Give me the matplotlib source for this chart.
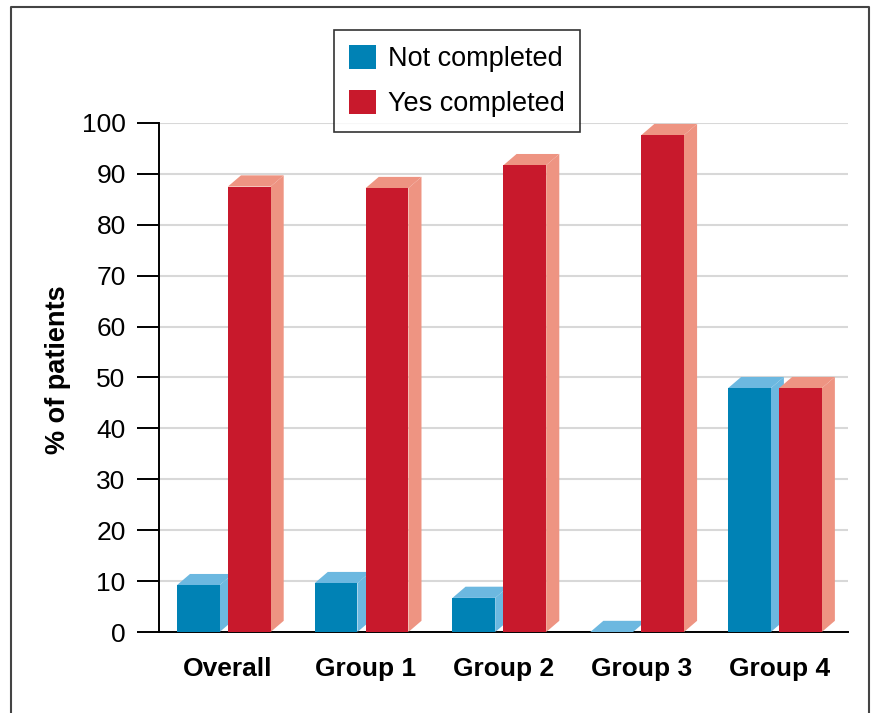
import numpy as np
import matplotlib.pyplot as plt
from matplotlib.patches import Polygon, Patch
from matplotlib.lines import Line2D

plt.rcParams['font.family'] = ['Liberation Sans', 'DejaVu Sans']

groups = ['Overall', 'Group 1', 'Group 2', 'Group 3', 'Group 4']
not_completed = [9.2, 9.6, 6.7, 0.0, 47.9]
yes_completed = [87.5, 87.2, 91.7, 97.6, 47.9]

blue_front, blue_light = '#0082b5', '#6cb8e0'
red_front, red_light = '#c8192c', '#ee9482'

fig = plt.figure(figsize=(8.76, 7.13), dpi=100)
ax = fig.add_axes([0.1815, 0.1136, 0.7865, 0.714])

width = 0.31
depth_x = 0.095   # sideways offset of the fake 3D faces
depth_y = 2.2     # upward offset of the fake 3D faces

x = np.arange(len(groups))
offsets = [(-0.215, not_completed, blue_front, blue_light),
           (0.155, yes_completed, red_front, red_light)]

for off, vals, front, light in offsets:
    for xi, v in zip(x + off, vals):
        x0, x1 = xi - width / 2, xi + width / 2
        side = [(x1, 0), (x1 + depth_x, depth_y), (x1 + depth_x, v + depth_y), (x1, v)]
        top = [(x0, v), (x0 + depth_x, v + depth_y), (x1 + depth_x, v + depth_y), (x1, v)]
        ax.add_patch(Polygon(side, closed=True, facecolor=light, edgecolor='none',
                             zorder=3, clip_on=False))
        ax.add_patch(Polygon(top, closed=True, facecolor=light, edgecolor='none',
                             zorder=3, clip_on=False))
    ax.bar(x + off, vals, width=width, color=front, zorder=4, clip_on=False)

ax.set_xlim(-0.5, len(groups) - 0.5)
ax.set_ylim(0, 100)
ax.set_yticks(range(0, 101, 10))
ax.set_xticks(x)
ax.set_xticklabels(groups, fontsize=19, fontweight='bold')
ax.tick_params(axis='x', length=0, pad=18)
ax.tick_params(axis='y', direction='out', length=16, width=1.4, labelsize=19, pad=8)
ax.yaxis.grid(True, color='#d8d8d8', linewidth=1.5, zorder=0)
ax.set_axisbelow(True)

for s in ['top', 'right']:
    ax.spines[s].set_visible(False)
ax.spines['left'].set_linewidth(1.4)
ax.spines['bottom'].set_linewidth(1.4)

ax.set_ylabel('% of patients', fontsize=19.5, fontweight='bold')
ax.yaxis.set_label_coords(-0.127, 0.515)

handles = [Patch(facecolor=blue_front), Patch(facecolor=red_front)]
leg = fig.legend(handles, ['Not completed', 'Yes completed'],
                 loc='upper left', bbox_to_anchor=(334 / 876, 1 - 30 / 713),
                 fontsize=19.5, frameon=True, fancybox=False, edgecolor='black',
                 handlelength=1.0, handleheight=1.0, borderpad=0.55,
                 labelspacing=0.65, handletextpad=0.45, borderaxespad=0)
leg.get_frame().set_linewidth(1.2)

# outer frame around the figure (open at the bottom)
fx0, fx1, fy1 = 11 / 876, 869 / 876, 1 - 7 / 713
fig.add_artist(Line2D([fx0, fx0, fx1, fx1], [0, fy1, fy1, 0],
                      transform=fig.transFigure, color='#444444', linewidth=1.5))

fig.savefig('out.png', dpi=100)
